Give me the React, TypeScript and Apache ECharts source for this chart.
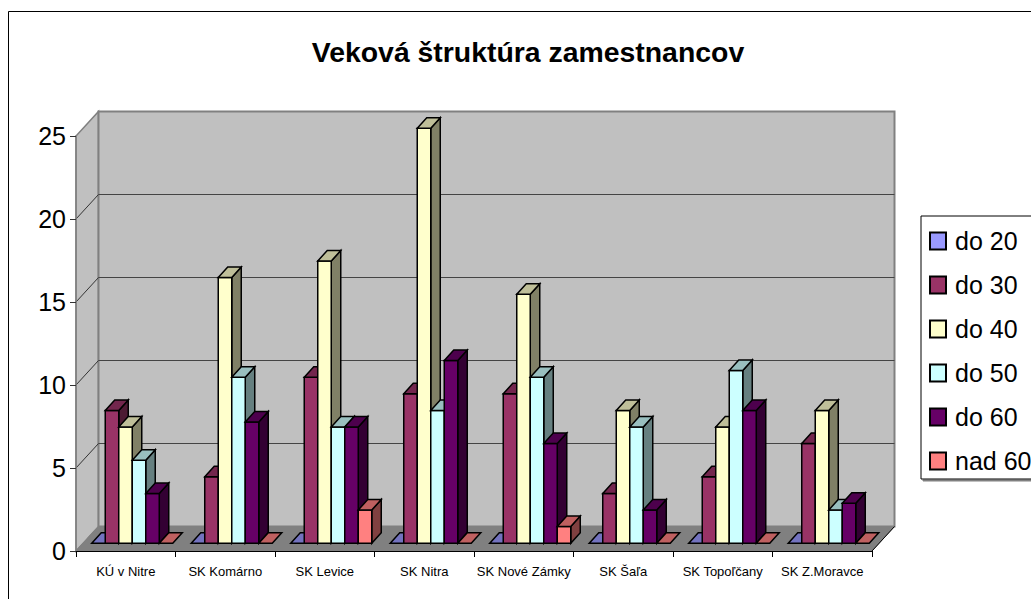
import React, { useEffect, useRef } from "react";
import * as echarts from "echarts";

const categories = ["KÚ v Nitre", "SK Komárno", "SK Levice", "SK Nitra", "SK Nové Zámky", "SK Šaľa", "SK Topoľčany", "SK Z.Moravce"];
const do20 = [0, 0, 0, 0, 0, 0, 0, 0];
const do30 = [8, 4, 10, 9, 9, 3, 4, 6];
const do40 = [7, 16, 17, 25, 15, 8, 7, 8];
const do50 = [5, 10, 7, 8, 10, 7, 10.4, 2];
const do60 = [3, 7.3, 7, 11, 6, 2, 8, 2.4];
const nad60 = [0, 0, 2, 0, 1, 0, 0, 0];
const seriesNames = ["do 20", "do 30", "do 40", "do 50", "do 60", "nad 60"];
const seriesValues = [do20, do30, do40, do50, do60, nad60];
const frontColors = [[153, 153, 255], [153, 51, 102], [255, 255, 204], [204, 255, 255], [102, 0, 102], [255, 128, 128]];
const gridValues = [5, 10, 15, 20];

const FONT = "'Liberation Sans', Arial, sans-serif";
const WALL_DX = 22.5;
const WALL_DY = 24.5;
const BAR_OFFSET_X = 6.5;
const BAR_BASE_DY = 7.8;
const BAR_DEPTH_X = 9.5;
const BAR_DEPTH_Y = 10.5;
const BAR_RATIO = 0.1357;

const rgb = (c: number[], k = 1) => `rgb(${c.map((v) => Math.round(v * k)).join(",")})`;

function renderWalls(_params: any, api: any) {
  const n = categories.length;
  const [l, b] = api.coord([0, 0]);
  const band = api.size([1, 0])[0];
  const x0 = l - band / 2;
  const x1 = x0 + band * n;
  const top = api.coord([0, 25])[1];
  const dx = WALL_DX;
  const dy = WALL_DY;
  const children: any[] = [
    { type: "polygon", shape: { points: [[x0, b], [x0 + dx, b - dy], [x0 + dx, top - dy], [x0, top]] }, style: { fill: "#c0c0c0", stroke: "#808080", lineWidth: 1.5 } },
    { type: "polygon", shape: { points: [[x0 + dx, b - dy], [x1 + dx, b - dy], [x1 + dx, top - dy], [x0 + dx, top - dy]] }, style: { fill: "#c0c0c0", stroke: "#808080", lineWidth: 2 } },
    { type: "polygon", shape: { points: [[x0, b], [x1, b], [x1 + dx, b - dy], [x0 + dx, b - dy]] }, style: { fill: "#808080", stroke: "#808080", lineWidth: 1 } },
    { type: "line", shape: { x1: x1, y1: b, x2: x1 + dx, y2: b - dy }, style: { stroke: "#000", lineWidth: 1 } },
    { type: "line", shape: { x1: x0, y1: b, x2: x0 + dx, y2: b - dy }, style: { stroke: "#808080", lineWidth: 1 } },
  ];
  gridValues.forEach((v) => {
    const y = api.coord([0, v])[1];
    children.push({ type: "line", shape: { x1: x0, y1: y, x2: x0 + dx, y2: y - dy }, style: { stroke: "#333", lineWidth: 1 } });
    children.push({ type: "line", shape: { x1: x0 + dx, y1: y - dy, x2: x1 + dx, y2: y - dy }, style: { stroke: "#444", lineWidth: 1.2 } });
  });
  return { type: "group", children };
}

function renderBar(params: any, api: any) {
  const si = params.seriesIndex - 1;
  const cat = api.value(0);
  const val = api.value(1);
  const [cx, vy] = api.coord([cat, val]);
  const zero = api.coord([cat, 0])[1];
  const band = api.size([1, 0])[0];
  const w = band * BAR_RATIO;
  const x0 = cx + BAR_OFFSET_X - 3 * w + si * w;
  const x1 = x0 + w;
  const yb = zero - BAR_BASE_DY;
  const yt = vy - BAR_BASE_DY;
  const dx = BAR_DEPTH_X;
  const dy = BAR_DEPTH_Y;
  const c = frontColors[si];
  const border = { stroke: "#000", lineWidth: 1.5, lineJoin: "miter" };
  const children: any[] = [];
  if (val > 0) {
    children.push({ type: "polygon", shape: { points: [[x1, yt], [x1 + dx, yt - dy], [x1 + dx, yb - dy], [x1, yb]] }, style: { fill: rgb(c, 0.5), ...border } });
    children.push({ type: "polygon", shape: { points: [[x0, yb], [x1, yb], [x1, yt], [x0, yt]] }, style: { fill: rgb(c), ...border } });
  }
  children.push({ type: "polygon", shape: { points: [[x0, yt], [x1, yt], [x1 + dx, yt - dy], [x0 + dx, yt - dy]] }, style: { fill: rgb(c, 0.75), ...border } });
  return { type: "group", children };
}

export default function App() {
  const ref = useRef<HTMLDivElement>(null);
  useEffect(() => {
    const chart = echarts.init(ref.current!, null, { renderer: "svg" });
    chart.setOption({
      animation: false,
      backgroundColor: "#fff",
      title: {
        text: "Veková štruktúra zamestnancov",
        left: 523,
        top: 33,
        textAlign: "center",
        textStyle: { fontFamily: FONT, fontSize: 28.4, fontWeight: "bold", color: "#000" },
      },
      grid: { left: 76, right: 159, top: 136, bottom: 48 },
      xAxis: {
        type: "category",
        data: categories,
        z: 10,
        axisLine: { lineStyle: { color: "#000", width: 1 } },
        axisTick: { show: true, length: 6, lineStyle: { color: "#000" } },
        axisLabel: { interval: 0, margin: 14, fontFamily: FONT, fontSize: 13, color: "#000" },
      },
      yAxis: {
        type: "value",
        min: 0,
        max: 25,
        interval: 5,
        z: 10,
        splitLine: { show: false },
        axisLine: { show: true, lineStyle: { color: "#808080", width: 1.5 } },
        axisTick: { show: true, length: 6, lineStyle: { color: "#333" } },
        axisLabel: { margin: 10, fontFamily: FONT, fontSize: 25, color: "#000", padding: [3, 0, 0, 0] },
      },
      legend: {
        orient: "vertical",
        left: 921,
        top: 216,
        data: seriesNames.map((name) => ({ name, icon: "rect" })),
        itemWidth: 16,
        itemHeight: 17,
        itemGap: 15,
        padding: [10.5, 30, 3.5, 8],
        selectedMode: false,
        backgroundColor: "#fff",
        borderColor: "#000",
        borderWidth: 1,
        shadowColor: "#808080",
        shadowOffsetX: 2,
        shadowOffsetY: 2,
        shadowBlur: 0,
        textStyle: { fontFamily: FONT, fontSize: 25, color: "#000", lineHeight: 29, padding: [0, 0, 0, 4] },
      },
      graphic: [
        {
          type: "rect",
          z: -1,
          shape: { x: 8.5, y: 11.5, width: 1200, height: 800 },
          style: { fill: "none", stroke: "#000", lineWidth: 1 },
        },
      ],
      series: [
        {
          type: "custom",
          name: "walls",
          silent: true,
          z: 1,
          data: [[0, 0]],
          encode: { x: 0, y: 1 },
          renderItem: renderWalls,
        },
        ...seriesNames.map((name, i) => ({
          type: "custom",
          name,
          z: 2,
          itemStyle: { color: rgb(frontColors[i]), borderColor: "#000", borderWidth: 1.5 },
          data: seriesValues[i].map((v, c) => [c, v]),
          encode: { x: 0, y: 1 },
          renderItem: renderBar,
        })),
      ],
    });
    return () => chart.dispose();
  }, []);
  return <div ref={ref} style={{ position: "absolute", left: 0, top: 0, width: 1031, height: 599, overflow: "hidden" }} />;
}
